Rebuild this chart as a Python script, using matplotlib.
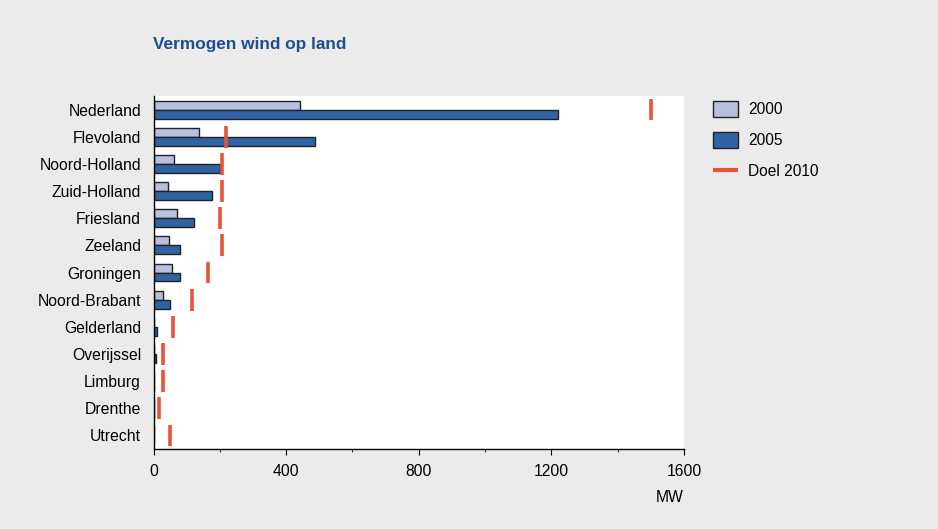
import matplotlib.pyplot as plt
import numpy as np
from matplotlib.patches import Patch
from matplotlib.lines import Line2D

plt.rcParams['font.family'] = ['Liberation Sans', 'DejaVu Sans']

provincies = ['Nederland', 'Flevoland', 'Noord-Holland', 'Zuid-Holland', 'Friesland',
              'Zeeland', 'Groningen', 'Noord-Brabant', 'Gelderland', 'Overijssel',
              'Limburg', 'Drenthe', 'Utrecht']
mw_2000 = [442, 136, 62, 45, 70, 46, 56, 28, 1, 0, 0, 0, 0]
mw_2005 = [1220, 488, 200, 176, 121, 81, 79, 50, 11, 6, 1, 2, 2]
doel_2010 = [1500, 220, 205, 205, 200, 205, 165, 115, 60, 30, 30, 15, 50]

bg = '#ebebeb'
kleur_2000 = '#b9bfdf'
kleur_2005 = '#2f63a4'
kleur_doel = '#e8533a'
rand = '#222222'

fig = plt.figure(figsize=(9.38, 5.29), dpi=100, facecolor=bg)
ax = fig.add_axes([0.1637, 0.1512, 0.5655, 0.6673])
ax.set_facecolor('white')

y = np.arange(len(provincies))
h = 0.33
ax.barh(y - h / 2, mw_2000, height=h, color=kleur_2000, edgecolor=rand, linewidth=1)
ax.barh(y + h / 2, mw_2005, height=h, color=kleur_2005, edgecolor=rand, linewidth=1)
ax.vlines(doel_2010, y - 0.4, y + 0.4, color=kleur_doel, linewidth=2.6, zorder=3)

ax.set_ylim(len(provincies) - 0.5, -0.5)
ax.set_xlim(0, 1600)
ax.set_yticks(y)
ax.set_yticklabels(provincies, fontsize=11.3)
ax.tick_params(axis='y', length=0, pad=9)
ax.set_xticks([0, 400, 800, 1200, 1600])
ax.set_xticks([200, 600, 1000, 1400], minor=True)
ax.tick_params(axis='x', which='major', length=4, labelsize=11.3, pad=7)
ax.tick_params(axis='x', which='minor', length=2)

for s in ['top', 'right']:
    ax.spines[s].set_visible(False)
for s in ['left', 'bottom']:
    ax.spines[s].set_color('black')
    ax.spines[s].set_linewidth(1)

fig.text(684 / 938, 1 - 497 / 529, 'MW', ha='right', va='center', fontsize=11.3)
fig.text(153 / 938, 1 - 44 / 529, 'Vermogen wind op land', ha='left', va='center',
         fontsize=12.4, fontweight='bold', color='#1d4f8f')

handles = [Patch(facecolor=kleur_2000, edgecolor=rand, linewidth=1),
           Patch(facecolor=kleur_2005, edgecolor=rand, linewidth=1),
           Line2D([], [], color=kleur_doel, linewidth=3, solid_capstyle='butt')]
fig.legend(handles, ['2000', '2005', 'Doel 2010'], loc='upper left',
           bbox_to_anchor=(710 / 938, 1 - 98 / 529), frameon=False, fontsize=11.2,
           handlelength=1.6, handleheight=1.2, labelspacing=0.95,
           handletextpad=0.65, borderaxespad=0, borderpad=0.2)

fig.savefig('out.png', dpi=100, facecolor=bg)
